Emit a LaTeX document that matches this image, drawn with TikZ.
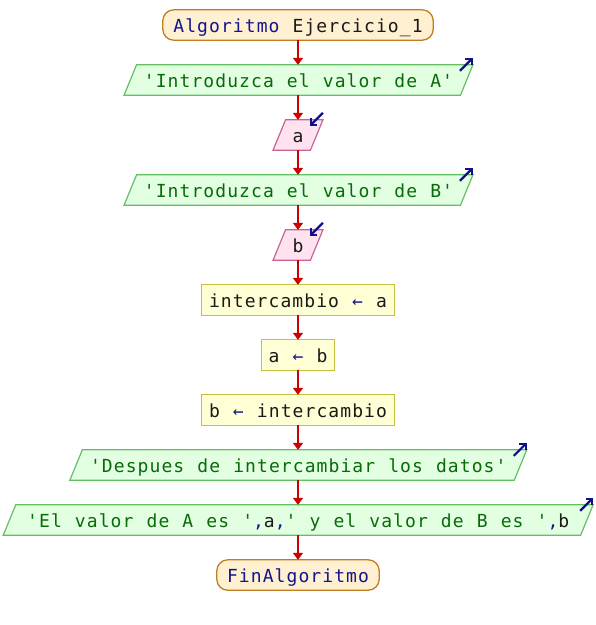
\documentclass[tikz,border=0pt]{standalone}
\usepackage{fontspec}
\setmonofont[LetterSpace=6,WordSpace=1.1]{DejaVu Sans Mono}
\usetikzlibrary{arrows.meta,calc}
\pgfdeclarelayer{bg}
\pgfsetlayers{bg,main}
\definecolor{flowred}{HTML}{CC0000}
\definecolor{iconblue}{HTML}{10108A}
\definecolor{kwblue}{HTML}{15158C}
\definecolor{strgreen}{HTML}{0A6A0A}
\definecolor{vartext}{HTML}{1A1A1A}
\definecolor{termfill}{HTML}{FFF0D2}
\definecolor{termline}{HTML}{C07E22}
\definecolor{outfill}{HTML}{E2FFE2}
\definecolor{outline}{HTML}{62C062}
\definecolor{infill}{HTML}{FFE2F0}
\definecolor{inline}{HTML}{C86494}
\definecolor{procfill}{HTML}{FFFFD6}
\definecolor{procline}{HTML}{C4C040}
\tikzset{
  txt/.style={inner sep=0pt, minimum height=30pt, text height=15.4pt, text depth=0pt,
    font=\ttfamily\fontsize{18pt}{20pt}\selectfont},
  flow/.style={draw=flowred, line width=2pt, -{Triangle[width=10pt,length=7pt]}},
  icon/.style={draw=iconblue, line width=2.2pt, -{Straight Barb[length=4.5pt,width=9pt]}},
  termshape/.style={fill=termfill, draw=termline, line width=1.3pt, rounded corners=11pt},
  outshape/.style={fill=outfill, draw=outline, line width=1.2pt},
  inshape/.style={fill=infill, draw=inline, line width=1.2pt},
  procshape/.style={fill=procfill, draw=procline, line width=1.2pt},
}
\newcommand\parashape[2]{%
  \draw[#2] ([xshift=6.25pt]#1.north west) -- ([xshift=6.25pt]#1.north east)
    -- ([xshift=-6.25pt]#1.south east) -- ([xshift=-6.25pt]#1.south west) -- cycle;}
\newcommand\outicon[1]{\draw[icon] ($(#1.north east)+(-6.75,6)$) -- ($(#1.north east)+(6.25,-7)$);}
\newcommand\inicon[1]{\draw[icon] ($(#1.north east)+(6.25,-7)$) -- ($(#1.north east)+(-6.75,6)$);}
\newcommand\kw[1]{{\color{kwblue}#1}}
\newcommand\str[1]{{\color{strgreen}#1}}
\newcommand\var[1]{{\color{vartext}#1}}
\newcommand\asg{\kw{←}}
\begin{document}
\begin{tikzpicture}[x=1pt,y=-1pt]
\useasboundingbox (0,0) rectangle (596,625);
\node[txt, minimum width=270pt] (start) at (298,25) {\kw{Algoritmo} \var{Ejercicio\_1}};
\node[txt, minimum width=336pt] (p1) at (298.5,80) {\str{'Introduzca el valor de A'}};
\node[txt, minimum width=37pt] (ina) at (298,135) {\var{a}};
\node[txt, minimum width=336pt] (p2) at (298.5,190) {\str{'Introduzca el valor de B'}};
\node[txt, minimum width=37pt] (inb) at (298,245) {\var{b}};
\node[txt, minimum width=192pt] (s1) at (298,300) {\var{intercambio} \asg{} \var{a}};
\node[txt, minimum width=72pt] (s2) at (298,355) {\var{a} \asg{} \var{b}};
\node[txt, minimum width=192pt] (s3) at (298,410) {\var{b} \asg{} \var{intercambio}};
\node[txt, minimum width=444pt] (p3) at (298.3,465) {\str{'Despues de intercambiar los datos'}};
\node[txt, minimum width=577pt] (p4) at (298.2,520) {\str{'El valor de A es '}\kw{,}\var{a}\kw{,}\str{' y el valor de B es '}\kw{,}\var{b}};
\node[txt, minimum width=162pt] (fin) at (298,575) {\kw{FinAlgoritmo}};
\begin{pgfonlayer}{bg}
\draw[termshape] (start.north west) rectangle (start.south east);
\draw[termshape] (fin.north west) rectangle (fin.south east);
\parashape{p1}{outshape}
\parashape{p2}{outshape}
\parashape{p3}{outshape}
\parashape{p4}{outshape}
\parashape{ina}{inshape}
\parashape{inb}{inshape}
\draw[procshape] (s1.north west) rectangle (s1.south east);
\draw[procshape] (s2.north west) rectangle (s2.south east);
\draw[procshape] (s3.north west) rectangle (s3.south east);
\end{pgfonlayer}
\outicon{p1}
\outicon{p2}
\outicon{p3}
\outicon{p4}
\inicon{ina}
\inicon{inb}
\draw[flow] (start.south) -- (start.south |- p1.north);
\draw[flow] (p1.south -| start.south) -- (start.south |- ina.north);
\draw[flow] (ina.south -| start.south) -- (start.south |- p2.north);
\draw[flow] (p2.south -| start.south) -- (start.south |- inb.north);
\draw[flow] (inb.south -| start.south) -- (s1.north);
\draw[flow] (s1.south) -- (s2.north);
\draw[flow] (s2.south) -- (s3.north);
\draw[flow] (s3.south) -- (start.south |- p3.north);
\draw[flow] (p3.south -| start.south) -- (start.south |- p4.north);
\draw[flow] (p4.south -| start.south) -- (fin.north);
\end{tikzpicture}
\end{document}
